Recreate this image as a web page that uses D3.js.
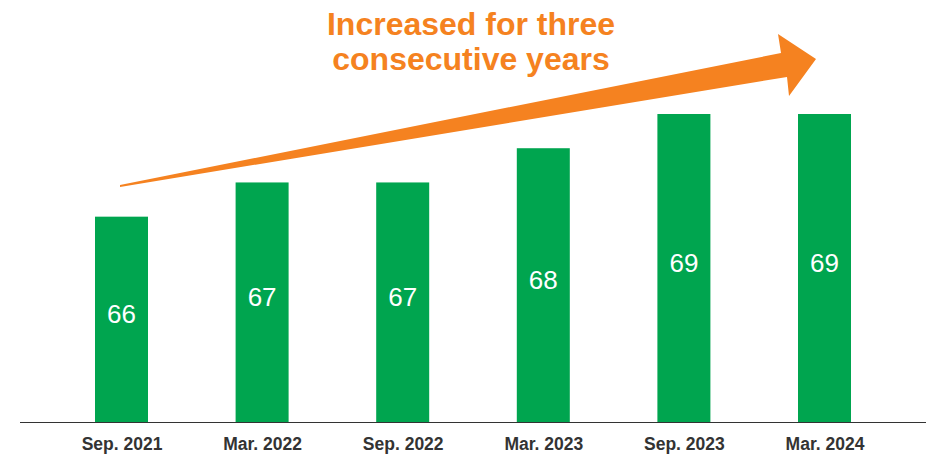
<!DOCTYPE html>
<html>
<head>
<meta charset="utf-8">
<script src="https://cdn.jsdelivr.net/npm/d3@7"></script>
<style>
  body { margin: 0; background: #fff; }
  svg { display: block; font-family: "Liberation Sans", Arial, sans-serif; }
</style>
</head>
<body>
<div id="chart"></div>
<script>
var svgWidth = 926;
var svgHeight = 455;

// data
var periods = ["Sep. 2021", "Mar. 2022", "Sep. 2022", "Mar. 2023", "Sep. 2023", "Mar. 2024"];
var values = [66, 67, 67, 68, 69, 69];
var titleLines = ["Increased for three", "consecutive years"];

var green = "#00a54f";
var orange = "#f58220";

var svg = d3.select("#chart")
  .append("svg")
  .attr("width", svgWidth)
  .attr("height", svgHeight);

var data = periods.map(function(p, i) { return { period: p, value: values[i] }; });

// bar centres
var xScale = d3.scalePoint()
  .domain(periods)
  .range([121.5, 824.5]);

var barWidth = 53;

var yScale = d3.scaleLinear()
  .domain([60, 69])
  .range([422, 114]);

// bars
svg.selectAll("rect.bar")
  .data(data)
  .enter()
  .append("rect")
  .attr("class", "bar")
  .attr("x", d => xScale(d.period) - barWidth / 2)
  .attr("y", d => yScale(d.value))
  .attr("width", barWidth)
  .attr("height", d => yScale(60) - yScale(d.value))
  .attr("fill", green);

// value labels in bars
svg.selectAll("text.value")
  .data(data)
  .enter()
  .append("text")
  .attr("class", "value")
  .attr("x", d => xScale(d.period))
  .attr("y", d => (yScale(d.value) + yScale(60)) / 2 + 4)
  .attr("text-anchor", "middle")
  .attr("fill", "#fff")
  .style("font-size", "26px")
  .text(d => d.value);

// baseline axis
var xAxis = d3.axisBottom(xScale).tickSize(0).tickPadding(16);
var axisG = svg.append("g")
  .attr("transform", "translate(0," + yScale(60) + ")")
  .call(xAxis);
axisG.select(".domain").remove();
axisG.append("line")
  .attr("x1", 20).attr("x2", 926)
  .attr("y1", 0.5).attr("y2", 0.5)
  .attr("stroke", "#333")
  .attr("stroke-width", 1);
axisG.selectAll(".tick text")
  .attr("fill", "#333")
  .style("font-size", "17.5px")
  .style("font-weight", "bold")
  .style("font-family", "'Liberation Sans', Arial, sans-serif");

// rising arrow
var arrowPts = [
  [120, 185], [781, 53], [778, 34], [816, 59], [789, 96], [787, 77], [120, 187]
];
svg.append("path")
  .attr("d", d3.line()(arrowPts) + "Z")
  .attr("fill", orange);

// title
svg.append("text")
  .attr("x", 471)
  .attr("y", 35)
  .attr("text-anchor", "middle")
  .attr("fill", orange)
  .style("font-size", "32px")
  .style("font-weight", "bold")
  .selectAll("tspan")
  .data(titleLines)
  .enter()
  .append("tspan")
  .attr("x", 471)
  .attr("dy", (d, i) => i === 0 ? 0 : 35)
  .text(d => d);
</script>
</body>
</html>
